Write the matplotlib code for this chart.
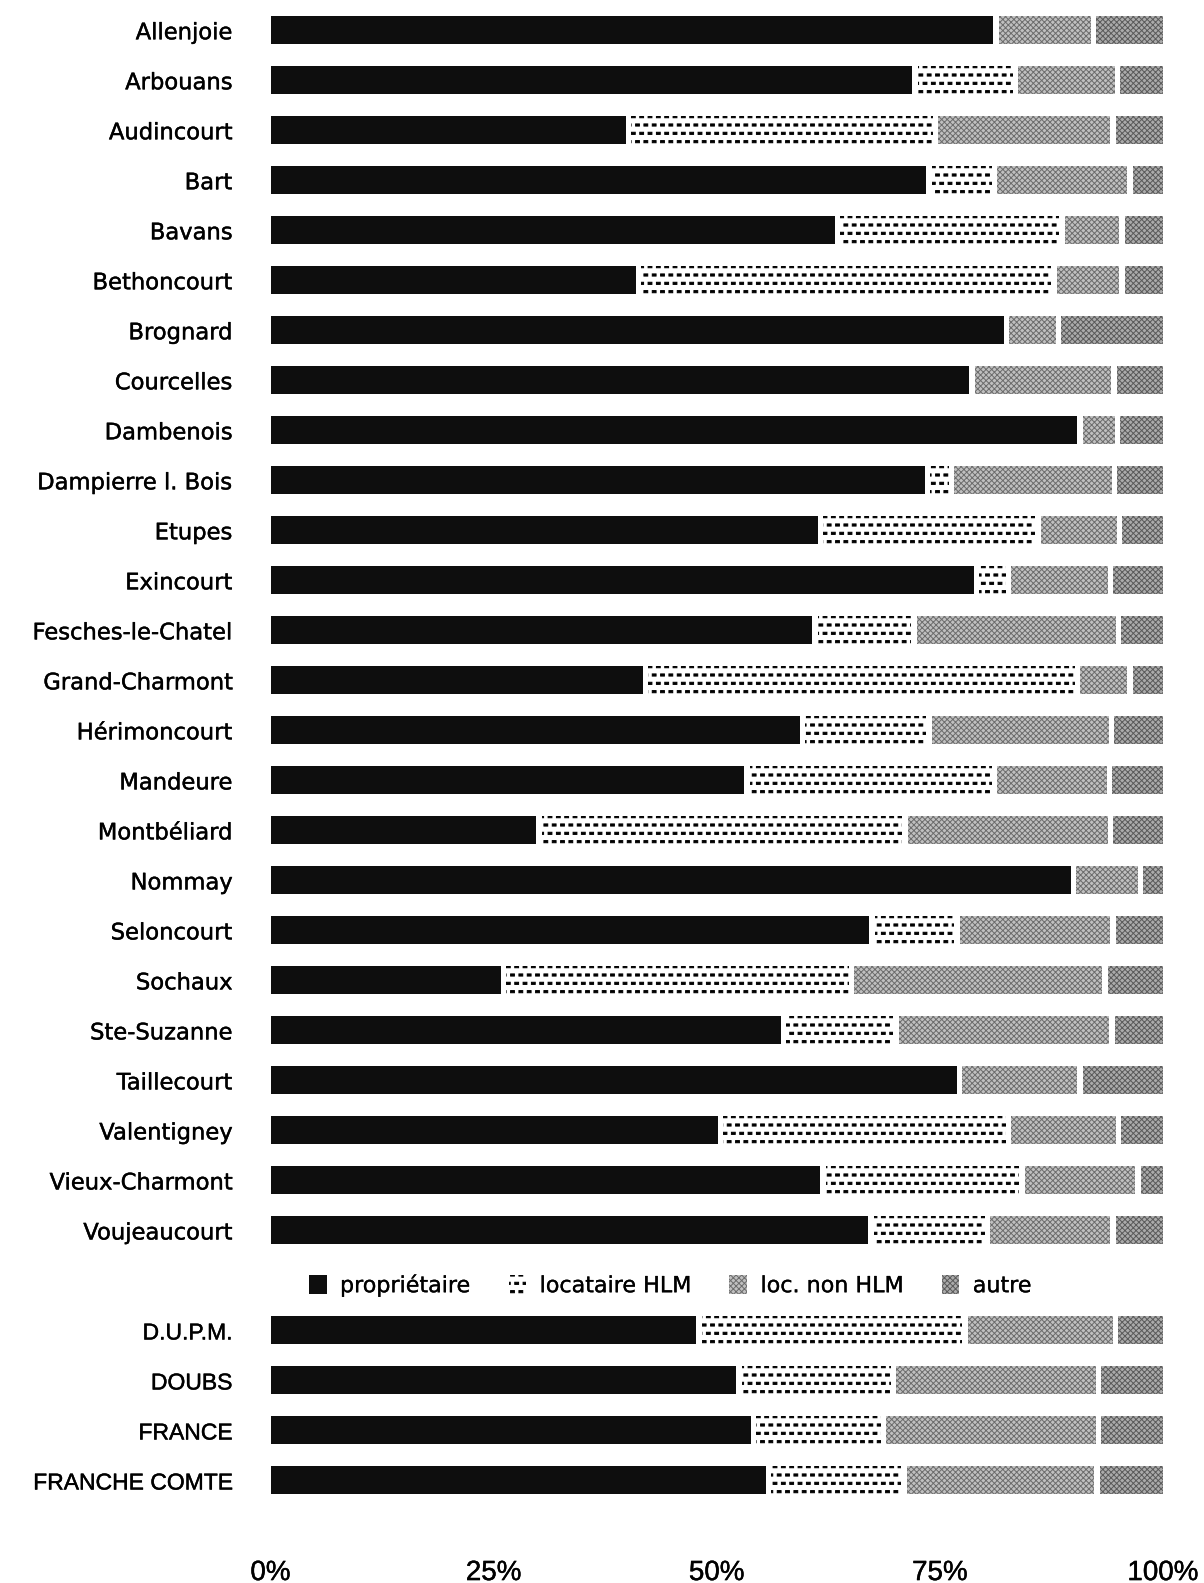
import matplotlib
matplotlib.use("Agg")
import matplotlib.pyplot as plt
import matplotlib.transforms as mtransforms
import matplotlib.hatch as mhatch
import matplotlib.patheffects as pe
from matplotlib.path import Path
import numpy as np

communes = ["Allenjoie", "Arbouans", "Audincourt", "Bart", "Bavans", "Bethoncourt",
            "Brognard", "Courcelles", "Dambenois", "Dampierre l. Bois", "Etupes",
            "Exincourt", "Fesches-le-Chatel", "Grand-Charmont", "Hérimoncourt",
            "Mandeure", "Montbéliard", "Nommay", "Seloncourt", "Sochaux",
            "Ste-Suzanne", "Taillecourt", "Valentigney", "Vieux-Charmont", "Voujeaucourt"]
aggregates = ["D.U.P.M.", "DOUBS", "FRANCE", "FRANCHE COMTE"]

proprietaire = [81.3, 72.2, 40.1, 73.8, 63.5, 41.2, 82.5, 78.6, 90.7, 73.6, 61.6, 79.1,
                61.0, 42.0, 59.6, 53.4, 30.1, 90.0, 67.4, 26.1, 57.5, 77.2, 50.4, 61.9, 67.3,
                48.0, 52.5, 54.1, 55.8]
locataire_hlm = [0.0, 11.3, 34.4, 7.3, 25.2, 46.6, 0.0, 0.0, 0.0, 2.7, 24.4, 3.6,
                 11.1, 48.4, 14.2, 27.7, 41.0, 0.0, 9.5, 39.0, 12.6, 0.0, 32.3, 22.3, 13.0,
                 29.8, 17.3, 14.6, 15.2]
loc_non_hlm = [10.9, 11.4, 19.9, 15.2, 6.7, 7.6, 5.8, 15.9, 4.2, 18.3, 9.1, 11.4,
               22.9, 5.9, 20.4, 12.9, 23.0, 7.5, 17.5, 28.4, 24.2, 13.5, 12.3, 13.0, 14.1,
               16.9, 23.0, 24.1, 21.6]
autre = [7.8, 5.1, 5.6, 3.7, 4.6, 4.6, 11.7, 5.5, 5.1, 5.4, 4.9, 5.9,
         5.0, 3.7, 5.8, 6.0, 5.9, 2.5, 5.6, 6.5, 5.7, 9.3, 5.0, 2.8, 5.6,
         5.3, 7.2, 7.2, 7.4]

series_names = ["propriétaire", "locataire HLM", "loc. non HLM", "autre"]
tick_values = [0, 25, 50, 75, 100]
tick_labels = ["0%", "25%", "50%", "75%", "100%"]


# A '*' hatch drawn as a staggered screen of small horizontal dashes
class Dashes(mhatch.Shapes):
    size = 1.0
    filled = True

    def __init__(self, hatch, density):
        self.num_rows = hatch.count('*') * 12
        self.shape_vertices = np.array([[-0.23, -0.13], [0.23, -0.13], [0.23, 0.13],
                                        [-0.23, 0.13], [-0.23, -0.13]])
        self.shape_codes = np.array([Path.MOVETO, Path.LINETO, Path.LINETO,
                                     Path.LINETO, Path.CLOSEPOLY], dtype=Path.code_type)
        super().__init__(hatch, density)


mhatch._hatch_types = [Dashes if t is mhatch.Stars else t for t in mhatch._hatch_types]

plt.rcParams["hatch.linewidth"] = 0.7

W, H = 1204, 1583
fig = plt.figure(figsize=(W / 100, H / 100), dpi=100)
ax_left, ax_right, ax_bottom = 270.5, 1163.0, 1542.0
ax = fig.add_axes([ax_left / W, (H - ax_bottom) / H, (ax_right - ax_left) / W, ax_bottom / H])

labels = communes + aggregates
n_c = len(communes)
legend_row = n_c
ypos = np.array(list(range(n_c)) + [legend_row + 1 + i for i in range(len(aggregates))])

data = np.array([proprietaire, locataire_hlm, loc_non_hlm, autre], dtype=float)
styles = [
    dict(facecolor="#0e0e0e", edgecolor="#0e0e0e", hatch=None),
    dict(facecolor="white", edgecolor="black", hatch="*"),
    dict(facecolor="#c0c0c0", edgecolor="#6c6c6c", hatch="xxxxxx"),
    dict(facecolor="#ababab", edgecolor="#5a5a5a", hatch="xxxxxx"),
]

gap = 0.6
bar_h = 0.56
cum = np.zeros(len(labels))
handles = []
for k in range(4):
    start = cum.copy()
    end = cum + data[k]
    left = np.where(start > 0.01, start + gap / 2, start)
    right = np.where(end < 99.99, end - gap / 2, end)
    width = np.where(data[k] > 0, right - left, 0)
    bc = ax.barh(ypos, width, left=left, height=bar_h, linewidth=0,
                 label=series_names[k], **styles[k])
    handles.append(bc)
    cum = end

ax.set_xlim(0, 100)
ax.set_ylim(30.23, -0.605)

bold_fx = [pe.withStroke(linewidth=0.3, foreground="black")]

ax.set_yticks(ypos)
ax.set_yticklabels(labels)
for i, t in enumerate(ax.get_yticklabels()):
    if i < n_c:
        t.set_fontfamily("DejaVu Sans")
        t.set_fontsize(16.3)
    else:
        t.set_fontfamily("Liberation Sans")
        t.set_fontsize(16.5)
    t.set_path_effects(bold_fx)
ax.tick_params(axis="y", length=0, pad=27.5)

ax.set_xticks(tick_values)
ax.set_xticklabels(tick_labels, fontsize=20, family="Liberation Sans")
for t in ax.get_xticklabels():
    t.set_path_effects(bold_fx)
ax.tick_params(axis="x", length=0, pad=13)

for s in ax.spines.values():
    s.set_visible(False)

trans = mtransforms.blended_transform_factory(ax.transAxes, ax.transData)
leg = ax.legend(handles=handles, loc="center left", bbox_to_anchor=(0.043, legend_row + 0.1),
                bbox_transform=trans, ncol=4, frameon=False, borderpad=0, borderaxespad=0,
                prop=dict(family="DejaVu Sans", size=16), handlelength=0.8,
                handleheight=0.9, handletextpad=0.6, columnspacing=1.7)
for t in leg.get_texts():
    t.set_path_effects([pe.withStroke(linewidth=0.2, foreground="black")])

fig.savefig("out.png", dpi=100, facecolor="white")
